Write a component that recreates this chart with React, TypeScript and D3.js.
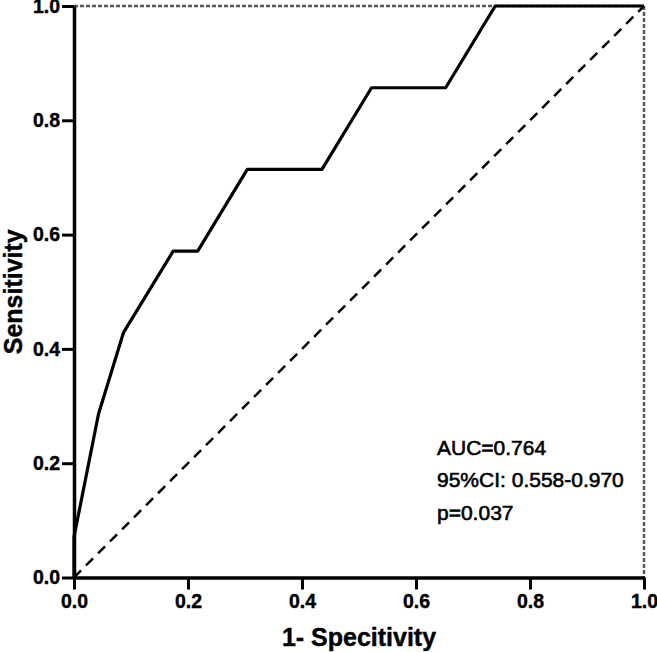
import React, { useRef, useEffect } from "react";
import * as d3 from "d3";

// ROC curve points
const fpr = [0, 0, 0.043, 0.087, 0.174, 0.217, 0.304, 0.435, 0.522, 0.652, 0.739, 1];
const tpr = [0, 0.071, 0.286, 0.429, 0.571, 0.571, 0.714, 0.714, 0.857, 0.857, 1, 1];
const tickValues = [0, 0.2, 0.4, 0.6, 0.8, 1.0];
const annotations = ["AUC=0.764", "95%CI: 0.558-0.970", "p=0.037"];

const W = 657;
const H = 652;
const left = 74;
const right = 644;
const top = 6;
const bottom = 577.5;
const font = "'Liberation Sans', Arial, Helvetica, sans-serif";

export default function App() {
  const xAxisRef = useRef<SVGGElement>(null);
  const yAxisRef = useRef<SVGGElement>(null);

  const x = d3.scaleLinear().domain([0, 1]).range([left, right]);
  const y = d3.scaleLinear().domain([0, 1]).range([bottom, top]);

  const points: [number, number][] = fpr.map((f, i) => [f, tpr[i]]);
  const line = d3
    .line<[number, number]>()
    .x((d) => x(d[0]))
    .y((d) => y(d[1]));

  useEffect(() => {
    if (!xAxisRef.current || !yAxisRef.current) return;
    const fmt = d3.format(".1f");

    const xa = d3.select(xAxisRef.current);
    xa.call(
      d3.axisBottom(x).tickValues(tickValues).tickFormat((d) => fmt(d as number)).tickSize(12).tickSizeOuter(0).tickPadding(5)
    );
    const ya = d3.select(yAxisRef.current);
    ya.call(
      d3.axisLeft(y).tickValues(tickValues).tickFormat((d) => fmt(d as number)).tickSize(12).tickSizeOuter(0).tickPadding(2)
    );

    [xa, ya].forEach((g) => {
      g.select(".domain").attr("stroke", "#000").attr("stroke-width", 3.5);
      g.selectAll(".tick line").attr("stroke", "#000").attr("stroke-width", 3);
      g.selectAll(".tick text")
        .attr("fill", "#000")
        .attr("stroke", "#000")
        .attr("stroke-width", 0.4)
        .style("font-family", font)
        .style("font-weight", "bold")
        .style("font-size", "19.5px");
    });
  }, []);

  return (
    <svg width={W} height={H} style={{ position: "absolute", left: 0, top: 0, background: "#fff" }}>
      {/* dotted frame on top and right */}
      <path
        d={`M${x(0)},${y(1)}H${x(1)}V${y(0)}`}
        fill="none"
        stroke="#555"
        strokeWidth={2.5}
        strokeDasharray="4,2"
      />
      {/* reference diagonal */}
      <path
        d={line([[0, 0], [1, 1]]) || ""}
        fill="none"
        stroke="#000"
        strokeWidth={2.5}
        strokeDasharray="10,7"
      />
      {/* ROC curve */}
      <path d={line(points) || ""} fill="none" stroke="#000" strokeWidth={3.2} strokeLinejoin="round" />

      <g ref={xAxisRef} transform={`translate(0,${bottom})`} />
      <g ref={yAxisRef} transform={`translate(${left},0)`} />

      <text
        x={(left + right) / 2}
        y={646}
        textAnchor="middle"
        stroke="#000"
        strokeWidth={0.4}
        style={{ fontFamily: font, fontWeight: "bold", fontSize: "25px" }}
      >
        1- Specitivity
      </text>
      <text
        transform={`translate(21.5,${(top + bottom) / 2}) rotate(-90)`}
        textAnchor="middle"
        stroke="#000"
        strokeWidth={0.4}
        style={{ fontFamily: font, fontWeight: "bold", fontSize: "25px" }}
      >
        Sensitivity
      </text>

      {annotations.map((t, i) => (
        <text
          key={t}
          x={437}
          y={455 + i * 32.3}
          stroke="#000"
          strokeWidth={0.6}
          style={{ fontFamily: font, fontSize: "21px" }}
        >
          {t}
        </text>
      ))}
    </svg>
  );
}
